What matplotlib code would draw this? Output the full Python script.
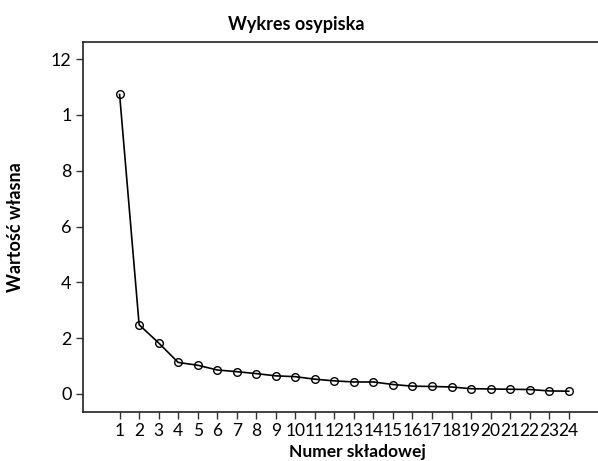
import matplotlib
matplotlib.use("Agg")
from matplotlib import pyplot as plt

# dane
components = list(range(1, 25))
eigenvalues = [10.73, 2.48, 1.83, 1.13, 1.03, 0.86, 0.80, 0.73, 0.65, 0.62,
               0.53, 0.47, 0.43, 0.43, 0.34, 0.28, 0.27, 0.25, 0.19, 0.18,
               0.17, 0.16, 0.11, 0.10]
y_ticks = [0, 2, 4, 6, 8, 10, 12]
y_tick_labels = ["0", "2", "4", "6", "8", "1", "12"]

plt.rcParams["font.family"] = ["Lato", "DejaVu Sans"]

fig = plt.figure(figsize=(5.98, 4.61), dpi=100)
ax = fig.add_axes([0.1396, 0.1063, 0.8604, 0.8032])

ax.plot(components, eigenvalues, color="black", linewidth=1.2,
        marker="o", markersize=5.5, markerfacecolor="none",
        markeredgecolor="black", markeredgewidth=1.0)

ax.set_xlim(-0.85, 25.5)
ax.set_ylim(-0.645, 12.62)
ax.set_xticks(components)
ax.set_yticks(y_ticks)
ax.set_yticklabels(y_tick_labels)
ax.tick_params(axis="both", labelsize=13, length=5, width=1, color="#333333")
ax.tick_params(axis="x", pad=3)
for lab in ax.get_xticklabels():
    lab.set_family(["Liberation Sans Narrow", "Lato"])
    lab.set_fontsize(12.5)

ax.spines["right"].set_visible(False)
for s in ["left", "bottom", "top"]:
    ax.spines[s].set_linewidth(1.2)
    ax.spines[s].set_color("#222222")

fig.text(0.496, 0.947, "Wykres osypiska", ha="center", va="center",
         fontsize=13, fontweight="bold")
ax.set_xlabel("Numer składowej", fontsize=12.5, fontweight="bold")
ax.xaxis.set_label_coords(0.5316, -0.108)
ax.xaxis.label.set_va("center")
ax.set_ylabel("Wartość własna", fontsize=13, fontweight="bold")
ax.yaxis.set_label_coords(-0.133, 0.5)
ax.yaxis.label.set_va("center")

plt.savefig("out.png", dpi=100)
